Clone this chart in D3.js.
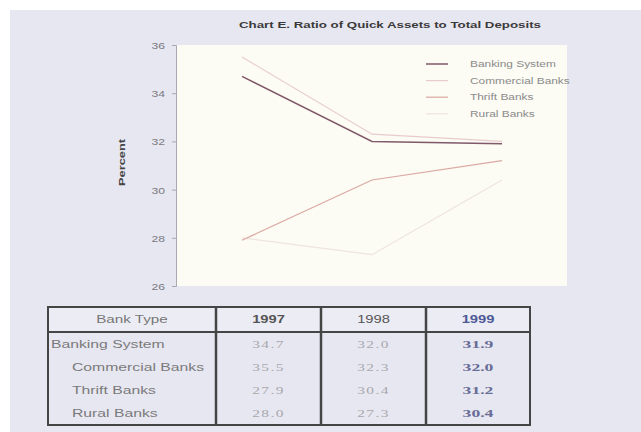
<!DOCTYPE html>
<html>
<head>
<meta charset="utf-8">
<script src="https://cdn.jsdelivr.net/npm/d3@7"></script>
<style>
  body { margin: 0; background: #ffffff; }
  svg { display: block; font-family: "Liberation Sans", Arial, sans-serif; }
</style>
</head>
<body>
<svg id="chart"></svg>
<script>
// chart values
const years = ['1997', '1998', '1999'];
const bankTypes = ['Banking System', 'Commercial Banks', 'Thrift Banks', 'Rural Banks'];
const legendLabels = ['Banking System', 'Commercial Banks', 'Thrift Banks', 'Rural Banks'];
const bankingSystem = [34.7, 32.0, 31.9];
const commercialBanks = [35.5, 32.3, 32.0];
const thriftBanks = [27.9, 30.4, 31.2];
const ruralBanks = [28.0, 27.3, 30.4];
const yTicks = [26, 28, 30, 32, 34, 36];

const seriesValues = [bankingSystem, commercialBanks, thriftBanks, ruralBanks];
const seriesColors = ['#80596a', '#e8cccd', '#dba8a2', '#eee5dc'];

const width = 641;
const height = 432;
const plot = { left: 177, right: 567, top: 45, bottom: 286 };

const svg = d3.select('#chart').attr('width', width).attr('height', height);

// the original picture is stretched sideways, so text gets a horizontal scale
const wideText = (parent, x, y, sx, str) =>
  parent.append('text')
    .attr('transform', `translate(${x},${y}) scale(${sx},1)`)
    .text(str);

// lavender backdrop
svg.append('rect')
  .attr('x', 10).attr('y', 10)
  .attr('width', width - 10).attr('height', height - 10)
  .attr('fill', '#e7e7f1');

// title
wideText(svg, 390, 28, 1.4, 'Chart E. Ratio of Quick Assets to Total Deposits')
  .attr('text-anchor', 'middle')
  .attr('font-size', 9.5)
  .attr('font-weight', 'bold')
  .attr('fill', '#3a3a3a');

// plot area
svg.append('rect')
  .attr('x', plot.left).attr('y', plot.top)
  .attr('width', plot.right - plot.left).attr('height', plot.bottom - plot.top)
  .attr('fill', '#fcfbf4');

const xScale = d3.scalePoint()
  .domain(years)
  .range([plot.left, plot.right])
  .padding(0.5);

const yScale = d3.scaleLinear()
  .domain([26, 36])
  .range([plot.bottom, plot.top]);

const yAxis = d3.axisLeft(yScale)
  .tickValues(yTicks)
  .tickFormat('')
  .tickSize(4);

const yAxisG = svg.append('g')
  .attr('transform', `translate(${plot.left - 1},0)`)
  .call(yAxis);
yAxisG.select('.domain').attr('stroke', '#a8a8b0');
yAxisG.selectAll('.tick line').attr('stroke', '#a8a8b0');
yAxisG.selectAll('.tick').each(function (d) {
  wideText(d3.select(this), -11, 3.5, 1.35, d)
    .attr('text-anchor', 'end')
    .attr('font-size', 9)
    .attr('fill', '#7a7a80');
});

// y label
svg.append('text')
  .attr('transform', `translate(125,${(plot.top + plot.bottom) / 2 - 3}) rotate(-90) scale(1.35,1)`)
  .attr('text-anchor', 'middle')
  .attr('font-size', 9.5)
  .attr('font-weight', 'bold')
  .attr('fill', '#444')
  .text('Percent');

// lines
const line = d3.line()
  .x((d, i) => xScale(years[i]))
  .y((d) => yScale(d));

// draw lightest first so darker lines sit on top
[3, 1, 2, 0].forEach((k) => {
  svg.append('path')
    .datum(seriesValues[k])
    .attr('fill', 'none')
    .attr('stroke', seriesColors[k])
    .attr('stroke-width', k === 0 ? 1.5 : 1.2)
    .attr('d', line);
});

// legend
const legend = svg.append('g').attr('transform', 'translate(426,64)');
legendLabels.forEach((label, i) => {
  const row = legend.append('g').attr('transform', `translate(0,${i * 16.6})`);
  row.append('line')
    .attr('x1', 0).attr('x2', 22)
    .attr('y1', 0).attr('y2', 0)
    .attr('stroke', seriesColors[i])
    .attr('stroke-width', i === 0 ? 1.5 : 1.2);
  wideText(row, 44, 3, 1.4, label)
    .attr('font-size', 8.5)
    .attr('fill', '#8a8a8a');
});

// data table
const table = { left: 48, right: 530, top: 307, header: 332, bottom: 425 };
const colEdges = [table.left, 216, 321, 426, table.right];
const rowH = (table.bottom - table.header) / bankTypes.length;

const tg = svg.append('g');

tg.append('rect')
  .attr('x', table.left).attr('y', table.top)
  .attr('width', table.right - table.left).attr('height', table.header - table.top)
  .attr('fill', '#ececf4');

// header text
wideText(tg, (colEdges[0] + colEdges[1]) / 2, table.top + 16, 1.45, 'Bank Type')
  .attr('text-anchor', 'middle')
  .attr('font-size', 10.5)
  .attr('fill', '#777');

years.forEach((yr, j) => {
  wideText(tg, (colEdges[j + 1] + colEdges[j + 2]) / 2, table.top + 16, 1.4, yr)
    .attr('text-anchor', 'middle')
    .attr('font-size', 10.5)
    .attr('font-weight', j === 1 ? 'normal' : 'bold')
    .attr('fill', j === 2 ? '#4c5894' : '#555');
});

// body rows
bankTypes.forEach((name, i) => {
  const y = table.header + rowH * i + rowH / 2 + 4;
  wideText(tg, i === 0 ? table.left + 3 : table.left + 24, y, 1.5, name)
    .attr('font-size', 10.5)
    .attr('fill', '#7a7a7a');
  seriesValues[i].forEach((v, j) => {
    wideText(tg, (colEdges[j + 1] + colEdges[j + 2]) / 2, y, j === 2 ? 1.6 : 1.4, v.toFixed(1))
      .attr('text-anchor', 'middle')
      .attr('font-family', '"Liberation Serif", "DejaVu Serif", serif')
      .attr('font-size', 11)
      .attr('font-weight', j === 2 ? 'bold' : 'normal')
      .attr('fill', j === 2 ? '#676d96' : '#a8a8ac')
      .attr('letter-spacing', j === 2 ? 0 : 1);
  });
});

// borders
tg.append('rect')
  .attr('x', table.left).attr('y', table.top)
  .attr('width', table.right - table.left).attr('height', table.bottom - table.top)
  .attr('fill', 'none')
  .attr('stroke', '#454545')
  .attr('stroke-width', 2);

tg.append('line')
  .attr('x1', table.left).attr('x2', table.right)
  .attr('y1', table.header).attr('y2', table.header)
  .attr('stroke', '#454545')
  .attr('stroke-width', 2);

colEdges.slice(1, -1).forEach((x) => {
  tg.append('line')
    .attr('x1', x).attr('x2', x)
    .attr('y1', table.top).attr('y2', table.bottom)
    .attr('stroke', '#454545')
    .attr('stroke-width', 2.5);
});
</script>
</body>
</html>
